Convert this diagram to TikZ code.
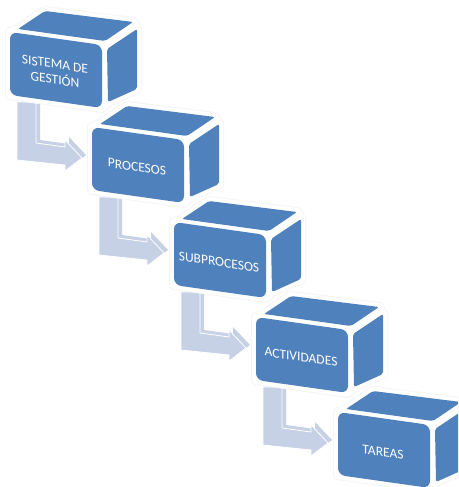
\documentclass[tikz,border=0pt]{standalone}
\usepackage{fontspec}
\setmainfont{Carlito}
\definecolor{cubeblue}{RGB}{79,129,189}
\definecolor{arrowblue}{RGB}{198,209,229}
\begin{document}
\begin{tikzpicture}[x=1pt,y=-1pt,
  sideface/.style={fill=cubeblue, rounded corners=2pt},
  frontface/.style={fill=cubeblue, rounded corners=7pt},
  halo/.style={fill=white, draw=white, line width=8pt, line join=round},
  haloring/.style={draw=black!4, line width=10pt, line join=round},
  arrowback/.style={fill=arrowblue},
  arrowfront/.style={fill=arrowblue, draw=white, line width=0.8pt, line join=round},
  steplabel/.style={text=white, font=\fontsize{13.5}{15.5}\selectfont,
    align=center, yslant=-0.15, inner sep=0pt}]
\clip (0,0) rectangle (458,487);
\fill[white] (0,0) rectangle (458,487);

% bent arrows leading from one step to the next
\foreach \i in {0,...,3} {
  \begin{scope}[shift={({10+82*\i},{32+95*\i})}]
    \path[arrowback, shift={(4,-3)}]
      (7,70) -- (26,70) -- (26,111) -- (55,115) -- (55,108) -- (72,126)
      -- (55,139) -- (55,133) -- (7,128) -- cycle;
    \path[arrowfront]
      (7,70) -- (26,70) -- (26,111) -- (55,115) -- (55,108) -- (72,126)
      -- (55,139) -- (55,133) -- (7,128) -- cycle;
  \end{scope}
}

% the five cubes, each one step further down and to the right
\foreach \lab [count=\n, evaluate=\n as \i using int(\n-1)] in
  {{SISTEMA DE\\GESTIÓN},PROCESOS,SUBPROCESOS,ACTIVIDADES,TAREAS} {
  \begin{scope}[shift={({10+82*\i},{32+95*\i})}]
    \path[haloring] (0,63) -- (0,0) -- (8,-3) -- (35,-21) -- (123,-10)
      -- (127,-3) -- (127,57) -- (98,70) -- (92,76) -- cycle;
    \path[halo] (0,63) -- (0,0) -- (8,-3) -- (35,-21) -- (123,-10)
      -- (127,-3) -- (127,57) -- (98,70) -- (92,76) -- cycle;
    % top face
    \path[sideface] (8,-3) -- (95,9) -- (123,-10) -- (35,-21) -- cycle;
    % right face
    \path[sideface] (97,17) -- (127,-3) -- (127,57) -- (98,70) -- cycle;
    % front face
    \path[frontface] (0,0) -- (92,13) -- (92,76) -- (0,63) -- cycle;
    \begin{scope}[shift={(45,40)}]
      \node[steplabel] (c\n) at (0,0) {\lab};
    \end{scope}
  \end{scope}
}
\end{tikzpicture}
\end{document}
